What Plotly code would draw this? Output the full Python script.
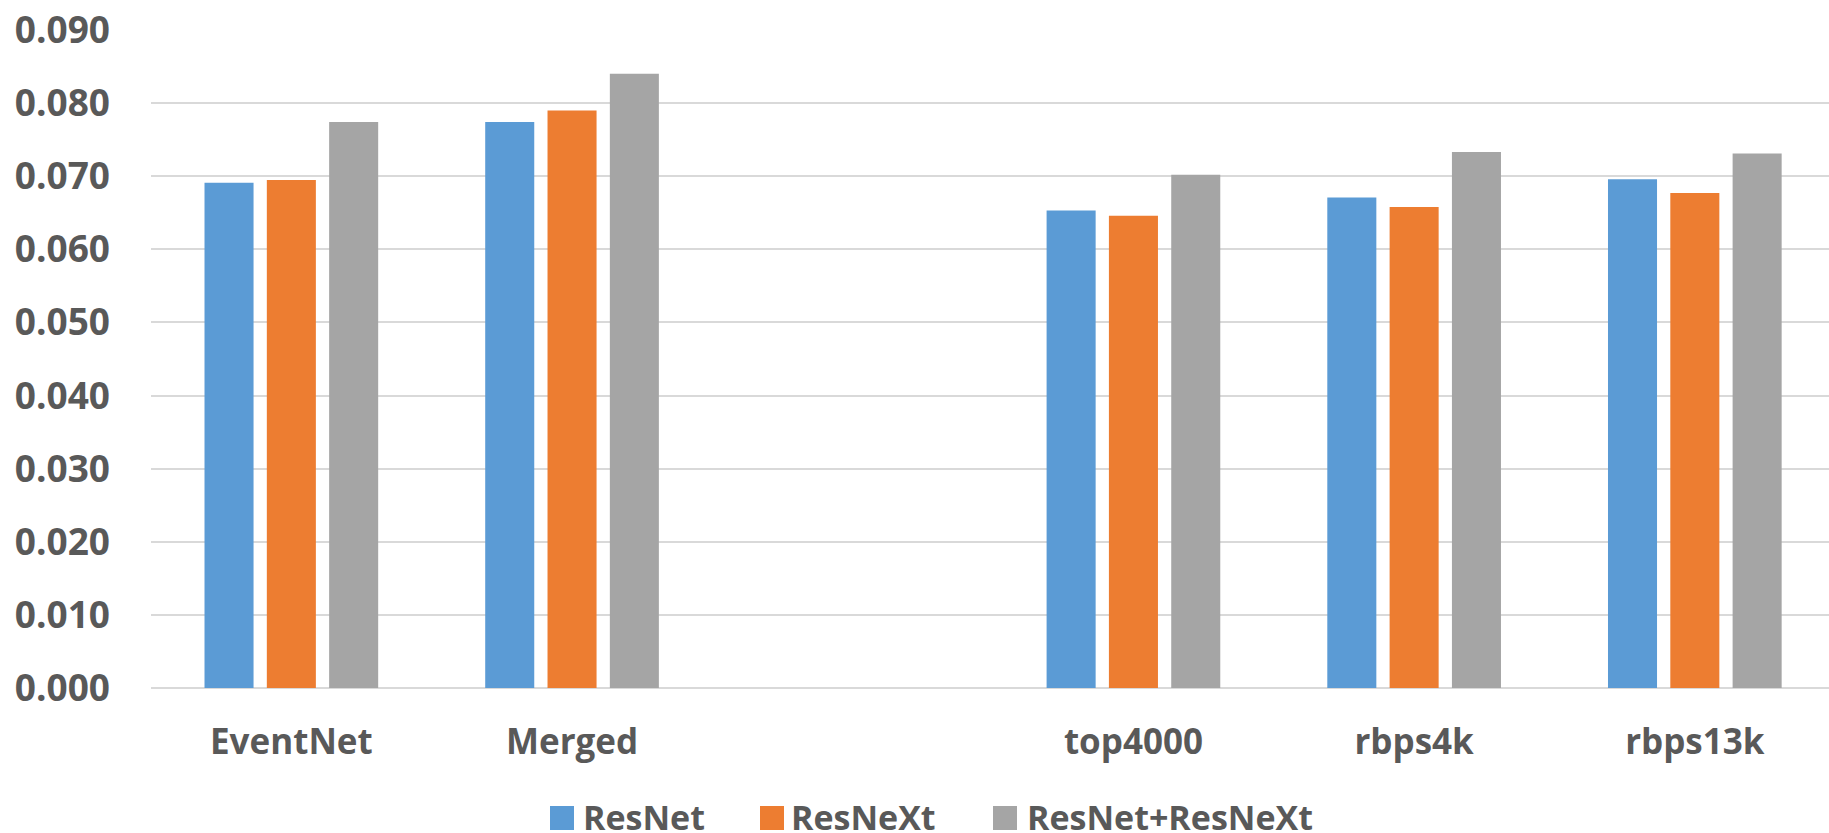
import plotly.graph_objects as go

# Benchmark datasets (the blank slot keeps the spacing between the two groups)
categories = ["EventNet", "Merged", " ", "top4000", "rbps4k", "rbps13k"]

series_names = ["ResNet", "ResNeXt", "ResNet+ResNeXt"]
resnet = [0.0691, 0.0774, None, 0.0653, 0.0671, 0.0696]
resnext = [0.0695, 0.0790, None, 0.0646, 0.0658, 0.0677]
combined = [0.0774, 0.0840, None, 0.0702, 0.0733, 0.0731]

y_ticks = [0.00, 0.01, 0.02, 0.03, 0.04, 0.05, 0.06, 0.07, 0.08, 0.09]

colors = ["#5B9BD5", "#ED7D31", "#A5A5A5"]
TEXT = "#595959"
FONT = "Open Sans"

W, H = 1829, 833
M_L, M_R, M_T, M_B = 151, 0, 30, 145
PLOT_W = W - M_L - M_R
PLOT_H = H - M_T - M_B

fig = go.Figure()
for name, vals, col in zip(series_names, [resnet, resnext, combined], colors):
    fig.add_trace(go.Bar(
        x=categories, y=vals, name=name,
        marker=dict(color=col, line=dict(width=0)),
        showlegend=False,
    ))

# Hand-built legend: larger colour squares than the default bar legend
legend_y_px = 817
swatch = 24
legend_items = [(550, 582), (760, 790), (993, 1026)]
for (sx, tx), name, col in zip(legend_items, series_names, colors):
    x0 = (sx - M_L) / PLOT_W
    x1 = (sx + swatch - M_L) / PLOT_W
    y0 = (M_T + PLOT_H - (legend_y_px + 1 + swatch / 2)) / PLOT_H
    y1 = (M_T + PLOT_H - (legend_y_px + 1 - swatch / 2)) / PLOT_H
    fig.add_shape(type="rect", xref="paper", yref="paper",
                  x0=x0, x1=x1, y0=y0, y1=y1,
                  fillcolor=col, line=dict(width=0))
    fig.add_annotation(
        x=(tx - M_L) / PLOT_W, y=(M_T + PLOT_H - legend_y_px) / PLOT_H,
        xref="paper", yref="paper", xanchor="left", yanchor="middle",
        text="<b>%s</b>" % name, showarrow=False, borderpad=0,
        font=dict(family=FONT, size=34, color=TEXT),
    )

fig.update_layout(
    width=W, height=H,
    margin=dict(l=M_L, r=M_R, t=M_T, b=M_B, pad=0),
    paper_bgcolor="white", plot_bgcolor="white",
    barmode="group", bargap=0.334, bargroupgap=0.213,
    showlegend=False,
    font=dict(family=FONT, color=TEXT),
)
fig.update_xaxes(
    type="category", categoryorder="array", categoryarray=categories,
    range=[-0.5, 5.478],
    showgrid=False, showline=False, zeroline=False, ticks="",
    tickfont=dict(family=FONT, size=35, color=TEXT, weight="bold"),
    ticklabelstandoff=30,
)
fig.update_yaxes(
    range=[0, 0.09], tickvals=y_ticks, tickformat=".3f",
    showgrid=True, gridcolor="#D9D9D9", gridwidth=2,
    zeroline=True, zerolinecolor="#D9D9D9", zerolinewidth=2,
    showline=False, ticks="",
    tickfont=dict(family=FONT, size=37, color=TEXT, weight="bold"),
    ticklabelstandoff=40,
)

fig.write_html("out.html")
